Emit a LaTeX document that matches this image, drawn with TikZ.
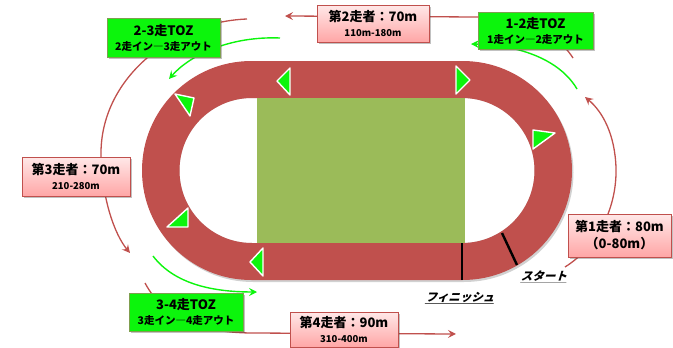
\documentclass[tikz,border=0pt]{standalone}
\usepackage{fontspec}
\newfontfamily\jp{Noto Sans CJK JP}
\usetikzlibrary{shadows,arrows.meta}
\definecolor{trackred}{HTML}{C0504D}
\definecolor{fieldgreen}{HTML}{9BBB59}
\definecolor{tozgreen}{HTML}{0CF50C}
\definecolor{tozborder}{HTML}{7F9F4F}
\definecolor{pinktop}{HTML}{FFE8E8}
\definecolor{pinkbot}{HTML}{FFA6A6}
\begin{document}
\begin{tikzpicture}[x=1pt,y=-1pt,
  font=\jp\bfseries\fontsize{13}{15}\selectfont,
  boxshadow/.style={drop shadow={shadow xshift=1.8pt,shadow yshift=-1.8pt,opacity=0.35,fill=black!70}},
  pinkbox/.style={draw=trackred,line width=0.8pt,top color=pinktop,bottom color=pinkbot,boxshadow,align=center,inner sep=0pt},
  tozbox/.style={draw=tozborder,line width=0.6pt,fill=tozgreen,boxshadow,align=center,inner sep=0pt},
  runarrow/.style={draw=trackred,line width=1.3pt,-{Stealth[length=8pt,width=8pt,inset=3pt]}},
  tozarrow/.style={draw=tozgreen,line width=1.4pt,-{Stealth[length=8pt,width=8pt,inset=3pt]}},
  marker/.style={fill=tozgreen,draw=white,line width=1.4pt,line join=round},
  mark line/.style={draw=black,line width=2.4pt},
  lbl/.style={font=\jp\bfseries\fontsize{11.5}{13}\selectfont,xslant=0.3,transform shape,inner sep=0pt}
]
\useasboundingbox (0,0) rectangle (673,348);
% track shadow (outer edge only)
\path[fill=black,opacity=0.18,even odd rule]
  [rounded corners=109.4pt] (143.5,63) rectangle (573.5,282)
  [rounded corners=72.4pt] (179.5,98) rectangle (534.5,243);
% track
\path[fill=trackred,even odd rule]
  [rounded corners=109.4pt] (142,61) rectangle (572,280)
  [rounded corners=72.4pt] (179.5,98) rectangle (534.5,243);
\fill[fieldgreen] (257,98) rectangle (465,243);
% finish and start lines
\coordinate (fin1) at (462,243); \coordinate (fin2) at (462,280);
\coordinate (st1) at (502,233); \coordinate (st2) at (517,265);
\draw[mark line] (fin1) -- (fin2);
\draw[mark line] (st1) -- (st2);
% direction markers
\draw[marker] (456,66) -- (456,94) -- (470,80) -- cycle;
\draw[marker] (277,81) -- (290,68) -- (290,95) -- cycle;
\draw[marker] (175,94) -- (194,98) -- (190,116) -- cycle;
\draw[marker] (167,227) -- (188,208) -- (188,227) -- cycle;
\draw[marker] (250,262) -- (263,248) -- (263,276) -- cycle;
\draw[marker] (533,130) -- (555,133) -- (533,149) -- cycle;
% runner arcs
\coordinate (a1s) at (565,267); \coordinate (a1e) at (585,97);
\coordinate (a2s) at (573,58);  \coordinate (a2e) at (285,16);
\coordinate (a3s) at (247,19);  \coordinate (a3e) at (130,253);
\coordinate (a4s) at (145,283); \coordinate (a4e) at (456,334);
\draw[runarrow] (a1s) .. controls (600,245) and (617,205) .. (616,168) .. controls (615,135) and (603,112) .. (a1e);
\draw[runarrow] (a2s) .. controls (555,30) and (520,17) .. (478,17) -- (a2e);
\draw[runarrow] (a3s) .. controls (170,22) and (100,80) .. (101,155) .. controls (102,200) and (115,235) .. (a3e);
\draw[runarrow] (a4s) .. controls (165,320) and (200,332) .. (250,333) -- (a4e);
% TOZ arrows
\coordinate (t1s) at (577,89); \coordinate (t1e) at (471,44);
\coordinate (t2s) at (280,38); \coordinate (t2e) at (169,79);
\coordinate (t3s) at (153,256); \coordinate (t3e) at (257,292);
\draw[tozarrow] (t1s) .. controls (560,60) and (520,45) .. (t1e);
\draw[tozarrow] (t2s) .. controls (230,36) and (190,55) .. (t2e);
\draw[tozarrow] (t3s) .. controls (175,285) and (215,292) .. (t3e);
% boxes
\node[pinkbox,minimum width=112pt,minimum height=37pt] (r2) at (373,23.5)
  {第2走者：70m\\{\fontsize{9.5}{11}\selectfont 110m-180m}};
\node[tozbox,minimum width=115pt,minimum height=37pt] (z12) at (535.5,30.5)
  {1-2走TOZ\\{\fontsize{10.5}{12}\selectfont 1走イン―2走アウト}};
\node[tozbox,minimum width=113pt,minimum height=39pt] (z23) at (163.5,37.5)
  {2-3走TOZ\\{\fontsize{10.5}{12}\selectfont 2走イン―3走アウト}};
\node[pinkbox,minimum width=108pt,minimum height=39pt] (r3) at (76,176.5)
  {第3走者：70m\\{\fontsize{9.5}{11}\selectfont 210-280m}};
\node[tozbox,minimum width=114pt,minimum height=38pt] (z34) at (186,312)
  {3-4走TOZ\\{\fontsize{10.5}{12}\selectfont 3走イン―4走アウト}};
\node[pinkbox,minimum width=108pt,minimum height=35pt] (r4) at (344,329.5)
  {第4走者：90m\\{\fontsize{9.5}{11}\selectfont 310-400m}};
\node[pinkbox,minimum width=103pt,minimum height=43pt,font=\jp\bfseries\fontsize{13}{17}\selectfont] (r1) at (619.5,235.5)
  {第1走者：80m\\（0-80m）};
% labels
\node[lbl] (start) at (545,277) {\underline{スタート}};
\node[lbl] (finish) at (461,298) {\underline{フィニッシュ}};
\end{tikzpicture}
\end{document}
